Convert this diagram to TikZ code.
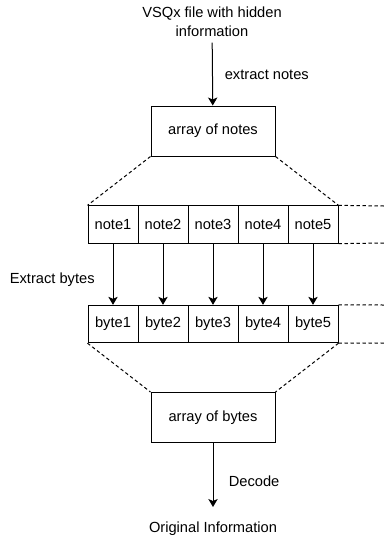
\documentclass[tikz,border=0pt]{standalone}
\usepackage{fontspec}
\setmainfont{Liberation Sans}
\usetikzlibrary{positioning,calc,arrows.meta}

\begin{document}
\begin{tikzpicture}[x=0.75pt, y=-0.75pt, line width=0.75pt]
	\useasboundingbox (0,0) rectangle (384,537);
	\begin{scope}
		\tikzstyle{every node}=[align=center, inner sep=1pt, font=\fontsize{11}{14.25}\selectfont]
		\tikzstyle{cell}=[draw, minimum width=37.5pt, minimum height=28pt]
		\tikzstyle{arraybox}=[draw, minimum width=93pt, minimum height=37.5pt]
		\tikzstyle{flow}=[-{Stealth[length=6pt, width=7pt, inset=1.5pt]}]
		\tikzstyle{row}=[dashed, dash pattern=on 2.5pt off 2pt]

		\node (src)   at (212, 22)  {VSQx file with hidden\\information};
		\node[arraybox] (notes) at (213, 131) {array of notes};

		\foreach \i in {1,...,5} {
			\node[cell] (n\i) at ({63+50*\i}, 224.5) {note\i};
			\node[cell] (b\i) at ({63+50*\i}, 324)   {byte\i};
		}

		\node[arraybox] (bytes) at (213, 417.5) {array of bytes};
		\node (orig)  at (213, 529) {Original Information};

		\node[anchor=west] (xn) at (223, 75)  {extract notes};
		\node[anchor=west] (xb) at (8, 280)   {Extract bytes};
		\node[anchor=west] (dc) at (227, 481) {Decode};

		\coordinate (nt) at (384, 206);
		\coordinate (nb) at (384, 243);
		\coordinate (bt) at (384, 305);
		\coordinate (bb) at (384, 343);

		\draw [flow, shorten <=3pt] (src) to (notes);
		\foreach \i in {1,...,5}
			\draw [flow] (n\i) to (b\i);
		\draw [flow, shorten >=10pt] (bytes) to (orig);

		\draw [row] (notes.south west) to (n1.north west);
		\draw [row] (notes.south east) to (n5.north east);
		\draw [row] (b1.south west) to (bytes.north west);
		\draw [row] (b5.south east) to (bytes.north east);

		\draw [row] (n5.north east) to (nt);
		\draw [row] (n5.south east) to (nb);
		\draw [row] (b5.north east) to (bt);
		\draw [row] (b5.south east) to (bb);
	\end{scope}
\end{tikzpicture}
\end{document}
